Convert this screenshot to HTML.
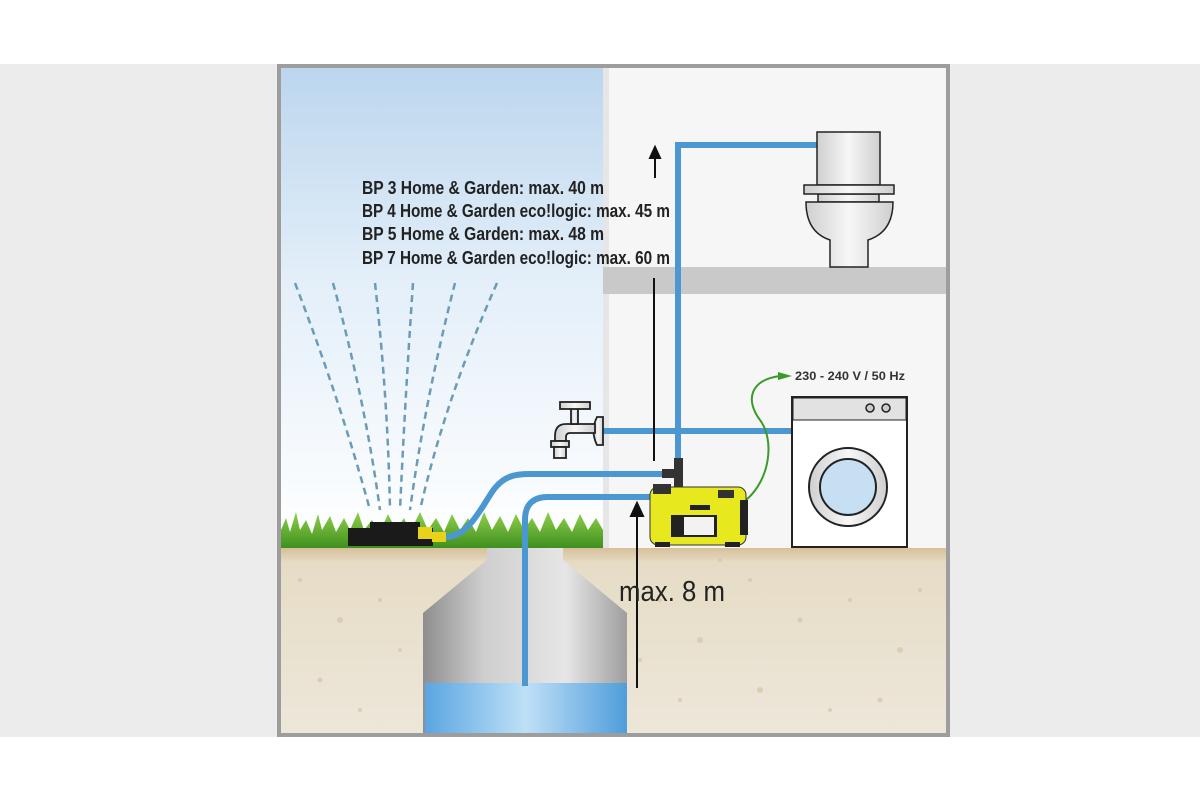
<!DOCTYPE html>
<html><head><meta charset="utf-8"><style>
html,body{margin:0;padding:0;background:#fff;}
svg{display:block;}
text{font-family:"Liberation Sans",sans-serif;}
</style></head><body>
<svg width="1200" height="800" viewBox="0 0 1200 800" xmlns="http://www.w3.org/2000/svg">
<defs>
<linearGradient id="sky" x1="0" y1="0" x2="0" y2="1">
<stop offset="0" stop-color="#bcd6ee"/><stop offset="0.45" stop-color="#e4eff9"/><stop offset="1" stop-color="#ffffff"/>
</linearGradient>
<linearGradient id="ground" x1="0" y1="0" x2="0" y2="1">
<stop offset="0" stop-color="#d6c09a"/><stop offset="0.08" stop-color="#e6dcc6"/><stop offset="1" stop-color="#ede7da"/>
</linearGradient>
<linearGradient id="well" x1="0" y1="0" x2="1" y2="0">
<stop offset="0" stop-color="#8e8e8e"/><stop offset="0.3" stop-color="#cfcfcf"/><stop offset="0.7" stop-color="#e6e6e6"/><stop offset="1" stop-color="#9e9e9e"/>
</linearGradient>
<linearGradient id="water" x1="0" y1="0" x2="1" y2="0">
<stop offset="0" stop-color="#5aa6e2"/><stop offset="0.5" stop-color="#bfe0f7"/><stop offset="1" stop-color="#4f9ddb"/>
</linearGradient>
<linearGradient id="porc" x1="0" y1="0" x2="1" y2="0">
<stop offset="0" stop-color="#cfcfcf"/><stop offset="0.5" stop-color="#f7f7f7"/><stop offset="1" stop-color="#cfcfcf"/>
</linearGradient>
<linearGradient id="grass" x1="0" y1="0" x2="0" y2="1">
<stop offset="0" stop-color="#8fd04a"/><stop offset="1" stop-color="#3f8f1f"/>
</linearGradient>
</defs>
<rect x="0" y="64" width="1200" height="673" fill="#ececec"/>
<rect x="277" y="64" width="673" height="673" fill="#9d9d9d"/>
<rect x="281" y="68" width="322" height="480" fill="url(#sky)"/>
<rect x="603" y="68" width="343" height="480" fill="#f6f6f6"/>
<rect x="603" y="68" width="6" height="480" fill="#e6e6e6"/>
<rect x="603" y="267" width="343" height="27" fill="#c9c9c9"/>
<rect x="281" y="548" width="665" height="185" fill="url(#ground)"/>
<g fill="#d3c6a6" opacity="0.7">
<circle cx="300" cy="580" r="2"/><circle cx="340" cy="620" r="3"/><circle cx="380" cy="600" r="2"/><circle cx="320" cy="680" r="2.5"/><circle cx="360" cy="710" r="2"/><circle cx="400" cy="650" r="2"/>
<circle cx="660" cy="600" r="2"/><circle cx="700" cy="640" r="3"/><circle cx="750" cy="580" r="2"/><circle cx="800" cy="620" r="2.5"/><circle cx="850" cy="600" r="2"/><circle cx="900" cy="650" r="3"/><circle cx="680" cy="700" r="2"/><circle cx="760" cy="690" r="3"/><circle cx="830" cy="710" r="2"/><circle cx="920" cy="590" r="2"/><circle cx="880" cy="700" r="2.5"/><circle cx="720" cy="560" r="2"/><circle cx="640" cy="660" r="2"/>
</g>
<polygon points="487,548 563,548 563,560 627,613 627,733 423,733 423,613 487,560" fill="url(#well)"/>
<rect x="425" y="683" width="202" height="50" fill="url(#water)"/>
<path d="M281,548 L281,530 L286,518 L290,532 L296,512 L300,530 L306,520 L312,534 L318,514 L322,530 L330,516 L336,532 L344,518 L350,530 L358,512 L364,530 L372,520 L380,532 L388,514 L396,530 L404,518 L410,532 L420,512 L428,530 L436,518 L444,532 L452,514 L460,530 L468,518 L476,532 L484,512 L492,530 L500,516 L508,532 L516,514 L524,530 L532,518 L540,532 L548,512 L556,530 L564,518 L572,532 L580,514 L588,530 L596,518 L603,530 L603,548 Z" fill="url(#grass)"/>
<g fill="none" stroke="#6a9cb8" stroke-width="2.5" stroke-dasharray="7,5">
<path d="M295,283 Q340,400 370,510"/><path d="M333,283 Q365,400 380,510"/><path d="M375,283 Q388,400 390,510"/><path d="M413,283 Q405,400 400,510"/><path d="M455,283 Q425,400 410,510"/><path d="M497,283 Q445,400 420,510"/>
</g>
<rect x="348" y="528" width="85" height="18" fill="#1a1a1a"/>
<rect x="370" y="522" width="50" height="8" fill="#1a1a1a"/>
<rect x="418" y="527" width="14" height="12" fill="#e8d21a"/>
<rect x="432" y="532" width="14" height="10" fill="#e8d21a"/>
<g fill="none" stroke="#4a97d2" stroke-width="6">
<path d="M446,537 C470,537 485,500 495,488 C505,476 515,474 530,474 L665,474"/>
<path d="M525,686 L525,520 Q525,497 548,497 L652,497"/>
<path d="M678,462 L678,145 L818,145"/>
<path d="M600,431 L792,431"/>
</g>
<rect x="674" y="458" width="9" height="32" fill="#333"/>
<rect x="662" y="469" width="14" height="9" fill="#333"/>
<g stroke="#111" stroke-width="2" fill="#111">
<line x1="655" y1="178" x2="655" y2="154"/><polygon points="650,158 655,147 660,158"/>
<line x1="654" y1="278" x2="654" y2="461"/>
<line x1="637" y1="688" x2="637" y2="512"/><polygon points="631,516 637,503 643,516"/>
</g>
<g font-weight="bold" font-size="18" fill="#222">
<text x="362" y="194" textLength="242" lengthAdjust="spacingAndGlyphs">BP 3 Home &amp; Garden: max. 40 m</text>
<text x="362" y="217" textLength="308" lengthAdjust="spacingAndGlyphs">BP 4 Home &amp; Garden eco!logic: max. 45 m</text>
<text x="362" y="240" textLength="242" lengthAdjust="spacingAndGlyphs">BP 5 Home &amp; Garden: max. 48 m</text>
<text x="362" y="264" textLength="308" lengthAdjust="spacingAndGlyphs">BP 7 Home &amp; Garden eco!logic: max. 60 m</text>
</g>
<text x="619" y="601" font-size="29" fill="#222" textLength="106" lengthAdjust="spacingAndGlyphs">max. 8 m</text>
<text x="795" y="380" font-size="12" font-weight="bold" fill="#333" textLength="110" lengthAdjust="spacingAndGlyphs">230 - 240 V / 50 Hz</text>
<path d="M746,500 C770,480 775,440 760,420 C745,400 750,380 780,376" fill="none" stroke="#3a9a2a" stroke-width="2"/>
<polygon points="778,372 792,376 778,380" fill="#3a9a2a"/>
<g stroke="#222" stroke-width="1.8" fill="url(#porc)">
<path d="M597,417 Q590,431 597,445 L603,445 L603,417 Z"/>
<path d="M595,424 L566,424 Q555,424 555,436 L555,441 L566,441 L566,437 Q566,433 570,433 L595,433 Z"/>
<rect x="571" y="408" width="7" height="16"/>
<rect x="560" y="402" width="30" height="7"/>
<rect x="551" y="441" width="18" height="6"/>
<rect x="554" y="447" width="12" height="11"/>
</g>
<g stroke="#222" stroke-width="1.5" fill="url(#porc)">
<rect x="817" y="132" width="63" height="53"/>
<rect x="818" y="194" width="61" height="8"/>
<path d="M806,202 L893,202 Q893,232 868,240 L868,267 L830,267 L830,240 Q806,232 806,202 Z"/>
<rect x="804" y="185" width="90" height="9"/>
</g>
<rect x="792" y="397" width="115" height="150" fill="#fff" stroke="#222" stroke-width="2"/>
<rect x="793" y="398" width="113" height="22" fill="#e2e2e2" stroke="#222" stroke-width="1"/>
<circle cx="870" cy="408" r="4" fill="#ccc" stroke="#222" stroke-width="1.5"/>
<circle cx="886" cy="408" r="4" fill="#ccc" stroke="#222" stroke-width="1.5"/>
<circle cx="848" cy="487" r="39" fill="url(#porc)" stroke="#222" stroke-width="2"/>
<circle cx="848" cy="487" r="28" fill="#c6dff2" stroke="#222" stroke-width="2"/>
<rect x="650" y="487" width="96" height="58" rx="8" fill="#e8e81e" stroke="#333" stroke-width="1"/>
<rect x="653" y="484" width="18" height="10" fill="#333"/>
<rect x="671" y="515" width="46" height="22" fill="#222"/>
<rect x="684" y="517" width="30" height="18" fill="#f2f2f2"/>
<rect x="690" y="505" width="20" height="5" fill="#222"/>
<rect x="718" y="490" width="16" height="8" fill="#333"/>
<rect x="740" y="500" width="8" height="35" fill="#222"/>
<rect x="655" y="542" width="15" height="5" fill="#222"/>
<rect x="725" y="542" width="15" height="5" fill="#222"/>
</svg>
</body></html>
